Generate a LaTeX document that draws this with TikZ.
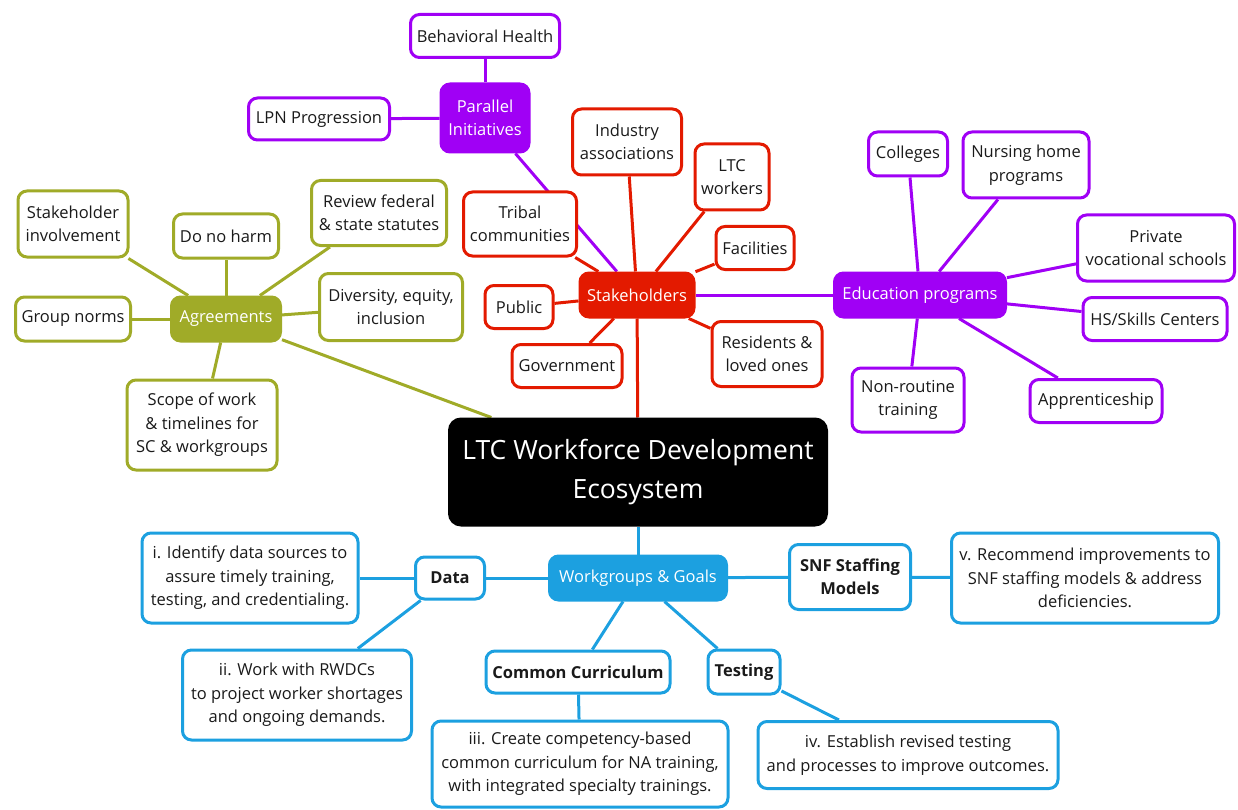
\documentclass[tikz,border=0pt]{standalone}
\usepackage{fontspec}
\setmainfont{Open Sans}
\definecolor{cpur}{HTML}{A000F5}
\definecolor{cred}{HTML}{E31A00}
\definecolor{colv}{HTML}{A0AB28}
\definecolor{cblu}{HTML}{1CA0E0}
\definecolor{ctxt}{HTML}{1A1A1A}
\pgfdeclarelayer{background}
\pgfsetlayers{background,main}
\begin{document}
\begin{tikzpicture}[x=1pt,y=-1pt,
  every node/.style={font=\fontsize{16.5}{23.5}\selectfont, align=center, inner sep=0pt},
  box/.style={draw=#1, line width=3pt, rounded corners=9pt, fill=white, text=ctxt},
  hub/.style={draw=#1, line width=3pt, rounded corners=9pt, fill=#1, text=white},
  sz/.style 2 args={minimum width=#1pt, minimum height=#2pt},
  link/.style={draw=#1, line width=3pt},
  bf/.style={font=\fontsize{16.5}{23.5}\selectfont\bfseries}]
\useasboundingbox (0,0) rectangle (1238,810);

% Parallel initiatives
\node[box=cpur, sz={149}{43}] (bh) at (485,36) {Behavioral Health};
\node[hub=cpur, sz={88}{68}] (pi) at (485,118) {Parallel\\Initiatives};
\node[box=cpur, sz={141}{42}] (lpn) at (319,119) {LPN Progression};

% Stakeholders
\node[box=cred, sz={109}{66}] (ind) at (627,142) {Industry\\associations};
\node[box=cred, sz={74}{66}] (ltcw) at (732,177) {LTC\\workers};
\node[box=cred, sz={113}{64}] (trib) at (520,224) {Tribal\\communities};
\node[box=cred, sz={78}{43}] (fac) at (755,248) {Facilities};
\node[hub=cred, sz={114}{44}] (stk) at (637,295) {Stakeholders};
\node[box=cred, sz={68}{43}] (pub) at (519,307) {Public};
\node[box=cred, sz={110}{43}] (gov) at (567,366) {Government};
\node[box=cred, sz={110}{65}] (res) at (767,354) {Residents \&\\loved ones};

% Education programs
\node[box=cpur, sz={79}{44}] (col) at (908,154) {Colleges};
\node[box=cpur, sz={126}{66}] (nhp) at (1026,165) {Nursing home\\programs};
\node[box=cpur, sz={157}{66}] (pvs) at (1156,248) {Private\\vocational schools};
\node[hub=cpur, sz={171}{44}] (edu) at (920,295) {Education programs};
\node[box=cpur, sz={144}{43}] (hs) at (1155,319) {HS/Skills Centers};
\node[box=cpur, sz={112}{64}] (nrt) at (908,400) {Non-routine\\training};
\node[box=cpur, sz={132}{43}] (app) at (1096,401) {Apprenticeship};

% Agreements
\node[box=colv, sz={110}{66}] (si) at (73,224) {Stakeholder\\involvement};
\node[box=colv, sz={105}{44}] (dnh) at (226,236) {Do no harm};
\node[box=colv, sz={135}{65}] (rev) at (379,213) {Review federal\\\& state statutes};
\node[box=colv, sz={115}{44}] (gn) at (73,319) {Group norms};
\node[hub=colv, sz={109}{44}] (agr) at (226,319) {Agreements};
\node[box=colv, sz={143}{67}] (dei) at (391,307) {Diversity, equity,\\inclusion};
\node[box=colv, sz={150}{90}] (sow) at (202,425) {Scope of work\\\& timelines for\\SC \& workgroups};

% Central
\node[draw=black, fill=black, text=white, rounded corners=12pt, line width=2pt,
      sz={378}{107}, font=\fontsize{26.5}{39}\selectfont] (ltc) at (638,472)
      {LTC Workforce Development\\Ecosystem};

% Workgroups & goals
\node[hub=cblu, sz={177}{44}] (wg) at (638,578) {Workgroups \& Goals};
\node[box=cblu, sz={69}{42}, bf] (data) at (450,578) {Data};
\node[box=cblu, sz={216}{90}] (gi) at (250,578) {i. Identify data sources to\\assure timely training,\\testing, and credentialing.};
\node[box=cblu, sz={229}{90}] (gii) at (297,695) {ii. Work with RWDCs\\to project worker shortages\\and ongoing demands.};
\node[box=cblu, sz={184}{42}, bf] (cc) at (578,672) {Common Curriculum};
\node[box=cblu, sz={296}{86}] (giii) at (580,764) {iii. Create competency-based\\common curriculum for NA training,\\with integrated specialty trainings.};
\node[box=cblu, sz={72}{44}, bf] (test) at (744,672) {Testing};
\node[box=cblu, sz={300}{67}] (giv) at (908,755) {iv. Establish revised testing\\and processes to improve outcomes.};
\node[box=cblu, sz={121}{65}, bf] (snf) at (850,577) {SNF Staffing\\Models};
\node[box=cblu, sz={267}{90}] (gv) at (1085,578) {v. Recommend improvements to\\SNF staffing models \& address\\deficiencies.};

\begin{pgfonlayer}{background}
  \draw[link=cpur] (pi) -- (bh);
  \draw[link=cpur] (pi) -- (lpn);
  \draw[link=cpur] (pi) -- (stk);
  \draw[link=cpur] (stk) -- (edu);
  \foreach \t in {col,nhp,pvs,hs,nrt,app} \draw[link=cpur] (edu) -- (\t);
  \foreach \t in {ind,ltcw,trib,fac,pub,gov,res,ltc} \draw[link=cred] (stk) -- (\t);
  \foreach \t in {si,dnh,rev,gn,dei,sow,ltc} \draw[link=colv] (agr) -- (\t);
  \draw[link=cblu] (ltc) -- (wg);
  \foreach \t in {data,snf,cc,test} \draw[link=cblu] (wg) -- (\t);
  \draw[link=cblu] (data) -- (gi);
  \draw[link=cblu] (data) -- (gii);
  \draw[link=cblu] (cc) -- (giii);
  \draw[link=cblu] (test) -- (giv);
  \draw[link=cblu] (snf) -- (gv);
\end{pgfonlayer}
\end{tikzpicture}
\end{document}
